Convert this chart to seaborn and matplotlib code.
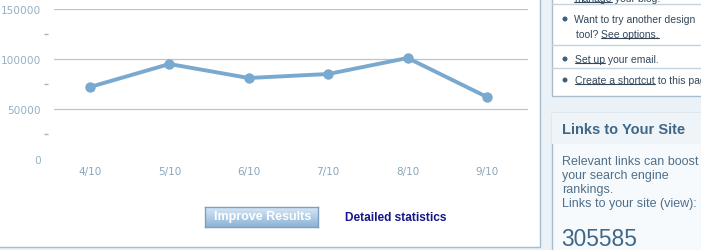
import numpy as np
import pandas as pd
import matplotlib
matplotlib.use("Agg")
import matplotlib.pyplot as plt
from matplotlib.patches import Rectangle, Ellipse
from matplotlib.lines import Line2D
import seaborn as sns

# ---- data ----
months = ["4/10", "5/10", "6/10", "7/10", "8/10", "9/10"]
visits = [72000, 95000, 81000, 85000, 101000, 62000]
y_major = [0, 50000, 100000, 150000]
y_minor = [25000, 75000, 125000]

sns.set_theme(style="white")
plt.rcParams["font.family"] = ["DejaVu Sans"]

W, H = 701, 251
fig = plt.figure(figsize=(W / 100, H / 100), dpi=100)
fig.patch.set_facecolor("#ebf2f7")


def fx(x):
    return x / W


def fy(y):
    return 1 - y / H


def rect(x0, y0, x1, y1, fc, ec="none", lw=1.0, z=-10):
    r = Rectangle((fx(x0), fy(y1)), fx(x1) - fx(x0), fy(y0) - fy(y1),
                  transform=fig.transFigure, facecolor=fc, edgecolor=ec,
                  linewidth=lw, zorder=z)
    fig.patches.append(r)
    return r


# chart panel
rect(-5, -5, 539.5, 247.5, "white", "#a9bccb", 1.0)
# right panels
rect(551.5, -5, 710, 96.5, "white", "#a9bccb", 1.0)
rect(551.5, 113.5, 710, 260, "#f7fafc", "#a9bccb", 1.0)
rect(552, 114, 710, 145, "#eef4f8", "none", 0, z=-9)

# ---- chart ----
ax = fig.add_axes([fx(54), fy(160), fx(528) - fx(54), fy(10) - fy(160)])
ax.set_facecolor("none")
df = pd.DataFrame({"month": months, "visits": visits})
df["pos"] = np.arange(len(months))
sns.lineplot(data=df, x="pos", y="visits", ax=ax, color="#7aa9cf",
             linewidth=2.8, marker="o", markersize=7.5,
             markeredgewidth=0, markerfacecolor="#7aa9cf", zorder=3)
ax.set_xlim(-0.453, 5.516)
ax.set_ylim(0, 150000)
ax.set_xticks(df["pos"])
ax.set_xticklabels(months)
ax.set_yticks(y_major)
ax.set_yticklabels([str(v) for v in y_major])
ax.set_yticks(y_minor, minor=True)
for v in y_major[1:]:
    ax.axhline(v, color="#b7c7cf", linewidth=0.9, zorder=1)
for s in ax.spines.values():
    s.set_visible(False)
ax.spines["left"].set_position(("outward", 4))
ax.tick_params(axis="y", which="major", length=0, pad=5.5, labelsize=7.6,
               labelcolor="#95b1c4")
ax.tick_params(axis="y", which="minor", left=True, length=3, width=1,
               color="#b0b0b0", direction="out")
ax.tick_params(axis="x", length=0, pad=5, labelsize=7.5, labelcolor="#8ba6ba")
ax.set_xlabel("")
ax.set_ylabel("")

# ---- button ----
bax = fig.add_axes([fx(205), fy(228), fx(318) - fx(205), fy(207.5) - fy(228)])
grad = np.linspace(0, 1, 50)[:, None]
top = np.array([0.86, 0.92, 0.97])
bot = np.array([0.55, 0.70, 0.84])
img = top[None, None, :] * (1 - grad[:, :, None]) + bot[None, None, :] * grad[:, :, None]
bax.imshow(img, aspect="auto", extent=[0, 1, 0, 1])
bax.set_xticks([])
bax.set_yticks([])
for s in bax.spines.values():
    s.set_color("#7f9fbd")
    s.set_linewidth(1)
fig.text(fx(263), fy(217), "Improve Results", color="white",
         fontsize=9, fontweight="bold", family="Liberation Sans",
         ha="center", va="center", zorder=5)
fig.text(fx(345), fy(218), "Detailed statistics", color="#16168a",
         fontsize=8.6, fontweight="bold", family="Liberation Sans",
         ha="left", va="center")

# ---- right panel text ----
fig.canvas.draw()
renderer = fig.canvas.get_renderer()
txt_col = "#33475a"


def segs(x, y, parts, size=7.5, color=txt_col):
    cur = fx(x)
    for s, und in parts:
        t = fig.text(cur, fy(y), s, fontsize=size, color=color,
                     family="Liberation Sans", ha="left", va="center")
        bb = t.get_window_extent(renderer)
        if und:
            x0 = bb.x0 / W
            x1 = bb.x1 / W
            ly = (bb.y0 + 1) / H
            fig.lines.append(Line2D([x0, x1], [ly, ly], color=color,
                                    linewidth=0.8, transform=fig.transFigure))
        cur = bb.x1 / W


segs(574, -1, [("manage", True), (" your blog.", False)])
for yy in [4.5, 45.5, 68.5]:
    fig.lines.append(Line2D([fx(552), fx(701)], [fy(yy), fy(yy)],
                            color="#c5d3dd", linewidth=1,
                            transform=fig.transFigure))
for yy in [20, 60, 81]:
    fig.patches.append(Ellipse((fx(565), fy(yy)), 5 / W, 5 / H,
                               transform=fig.transFigure, zorder=2,
                               facecolor="#3f5f80", edgecolor="none"))
segs(574, 20, [("Want to try another design", False)])
segs(576, 35, [("tool? ", False), ("See options.", True)])
segs(575, 60, [("Set up", True), (" your email.", False)])
segs(575, 81, [("Create a shortcut", True), (" to this page", False)])

fig.text(fx(562), fy(130), "Links to Your Site", fontsize=10.5,
         fontweight="bold", color="#3f6788", family="Liberation Sans",
         ha="left", va="center")
body = "#4f6f8b"
for yy, s in [(162, "Relevant links can boost"), (176, "your search engine"),
              (190, "rankings."), (204, "Links to your site (view):")]:
    fig.text(fx(562), fy(yy), s, fontsize=9, color=body,
             family="Liberation Sans", ha="left", va="center")
fig.text(fx(561), fy(240), "305585", fontsize=16.4, color="#3f6788",
         family="Liberation Sans", ha="left", va="center")

fig.savefig("out.png", dpi=100, facecolor=fig.get_facecolor())
